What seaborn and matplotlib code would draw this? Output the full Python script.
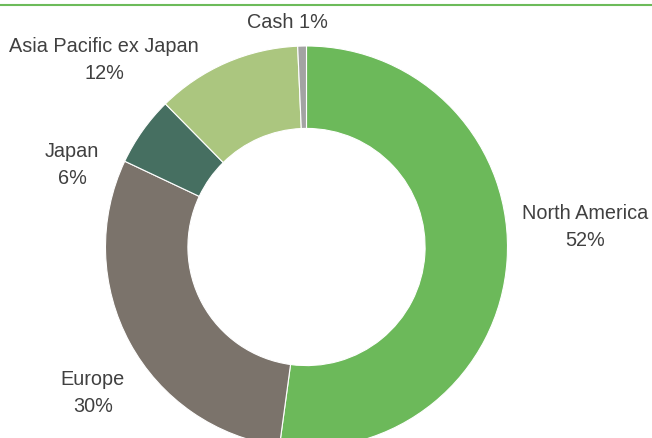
import matplotlib.pyplot as plt
import seaborn as sns
from matplotlib.lines import Line2D

# Data (shares; labels show them rounded)
regions = ["North America", "Europe", "Japan", "Asia Pacific ex Japan", "Cash"]
weights = [52.2, 29.9, 5.6, 11.7, 0.7]
colors = ["#6cb95a", "#7b736b", "#466f61", "#abc67f", "#a3a3a3"]

sns.set_theme(style="white")
plt.rcParams["font.family"] = ["Liberation Sans", "DejaVu Sans"]

fig = plt.figure(figsize=(6.52, 4.39), dpi=100)
W, H = 652, 439
cx, cy, r = 306.5, 248, 201
ax = fig.add_axes([(cx - r) / W, (H - cy - r) / H, 2 * r / W, 2 * r / H])

ax.pie(weights, colors=colors, startangle=90, counterclock=False,
       wedgeprops=dict(width=0.41, edgecolor="white", linewidth=0.8))
ax.set_xlim(-1, 1)
ax.set_ylim(-1, 1)
ax.set_aspect("equal")

# green rule across the top
fig.add_artist(Line2D([0, 1], [1 - 6 / H, 1 - 6 / H], color="#6cbb5a",
                      linewidth=1.5, transform=fig.transFigure))

# labels (pixel positions of the text centres)
label_pos = {
    "North America": (585, 227),
    "Europe": (93, 393),
    "Japan": (72, 165),
    "Asia Pacific ex Japan": (104, 60),
}
for name, w in zip(regions, weights):
    if name in label_pos:
        x, y = label_pos[name]
        fig.text(x / W, 1 - y / H, f"{name}\n{w:.0f}%", ha="center", va="center",
                 fontsize=14.3, color="#404040", linespacing=1.5)
fig.text(287 / W, 1 - 23 / H, f"{regions[-1]} {weights[-1]:.0f}%", ha="center",
         va="center", fontsize=14.3, color="#404040")

fig.savefig("out.png", dpi=100)
